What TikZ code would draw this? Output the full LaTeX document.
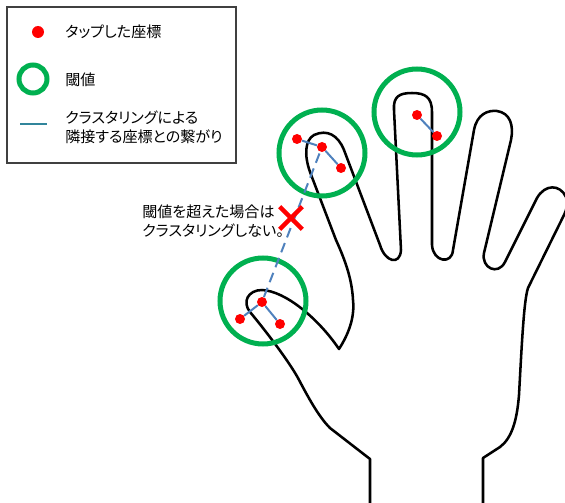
\documentclass[tikz,border=0pt]{standalone}
\usepackage{fontspec}
\newfontfamily\jpfont[RawFeature=+palt]{Noto Sans CJK JP}
\usetikzlibrary{positioning,shapes.misc}

\definecolor{tapred}{RGB}{255,0,0}
\definecolor{threshgreen}{RGB}{0,176,80}
\definecolor{linkblue}{RGB}{79,129,189}
\definecolor{legendteal}{RGB}{49,133,155}

\tikzset{
  tap/.style={circle, fill=tapred, inner sep=0pt, minimum size=7.5pt},
  thresh/.style={circle, draw=threshgreen, line width=3.75pt, inner sep=0pt, minimum size=64.5pt},
  link/.style={draw=linkblue, line width=1.5pt},
  hand/.style={draw=black, line width=1.9pt, line join=round},
  jptext/.style={anchor=west, inner sep=0.75pt, align=left, font=\jpfont\fontsize{11.3}{14.25}\selectfont},
}

\begin{document}
\begin{tikzpicture}[x=0.75pt,y=0.75pt,yscale=-1,xscale=1]
\useasboundingbox (0,0) rectangle (565,503);

%Shape: Hand outline
\draw[hand] (370,503) -- (370,459) -- (330,428)
  .. controls (318,416) and (307,395) .. (298,378)
  .. controls (288,360) and (265,330) .. (250,312)
  .. controls (242,302) and (248,290) .. (262,290)
  .. controls (285,291) and (318,318) .. (339,349)
  .. controls (348,335) and (355,318) .. (353,300)
  .. controls (352,280) and (346,262) .. (336,240)
  -- (310,172)
  .. controls (304,155) and (305,140) .. (314,135)
  .. controls (327,129) and (338,135) .. (344,150)
  -- (380,245)
  .. controls (385,262) and (400,266) .. (401,250)
  -- (394,110)
  .. controls (393,96) and (400,93) .. (412,93)
  .. controls (425,93) and (432,97) .. (432,112)
  -- (432,245)
  .. controls (433,262) and (452,265) .. (453,250)
  -- (474,130)
  .. controls (477,114) and (488,110) .. (497,111)
  .. controls (510,113) and (514,125) .. (511,140)
  -- (484,253)
  .. controls (481,268) and (498,276) .. (505,262)
  -- (537,198)
  .. controls (545,184) and (560,184) .. (566,197)
  .. controls (568,203) and (567,209) .. (564,215)
  -- (528,288)
  .. controls (524,300) and (522,340) .. (519,395)
  .. controls (517,420) and (512,438) .. (500,447)
  -- (483,458) -- (483,503);

%Shape: Circle (threshold)
\node[thresh] (thumbzone) at (263,301) {};
\node[thresh] (indexzone) at (322,153) {};
\node[thresh] (middlezone) at (417,112) {};

% tapped points
\node[tap] (t1) at (262,302) {};
\node[tap] (t2) at (240,319) {};
\node[tap] (t3) at (280,324) {};
\node[tap] (i1) at (297,139) {};
\node[tap] (i2) at (322,147) {};
\node[tap] (i3) at (341,168) {};
\node[tap] (m1) at (417,115) {};
\node[tap] (m2) at (437,136) {};

%Straight Lines (links)
\draw[link] (t1) -- (t2);
\draw[link] (t1) -- (t3);
\draw[link] (i1) -- (i2);
\draw[link] (i2) -- (i3);
\draw[link] (m1) -- (m2);
\draw[link, dash pattern=on 7.5pt off 4.5pt] (t1) -- (i2);

%Shape: Cross
\node[cross out, draw=tapred, line width=3.4pt, inner sep=0pt, minimum size=13.5pt] (nolink) at (291,218) {};

% Text Node
\node[jptext] (notetext) at (141,221) {閾値を超えた場合は\\クラスタリングしない。};

%Shape: Rectangle (legend)
\draw[color={rgb, 255:red, 64; green, 64; blue, 64}, line width=1.1pt] (7,7) rectangle (236,163);
\node[tap, minimum size=9pt] (legtap) at (38,32) {};
\node[thresh, minimum size=21pt] (legthresh) at (33,79) {};
\coordinate (legA) at (20,124);
\coordinate (legB) at (47,124);
\draw[legendteal, line width=2.2pt] (legA) -- (legB);

% Text Node
\node[jptext] (taptext) at (64,32) {タップした座標};
% Text Node
\node[jptext] (threshtext) at (64,80) {閾値};
% Text Node
\node[jptext] (linktext) at (64,127) {クラスタリングによる\\隣接する座標との繋がり};

\end{tikzpicture}
\end{document}
